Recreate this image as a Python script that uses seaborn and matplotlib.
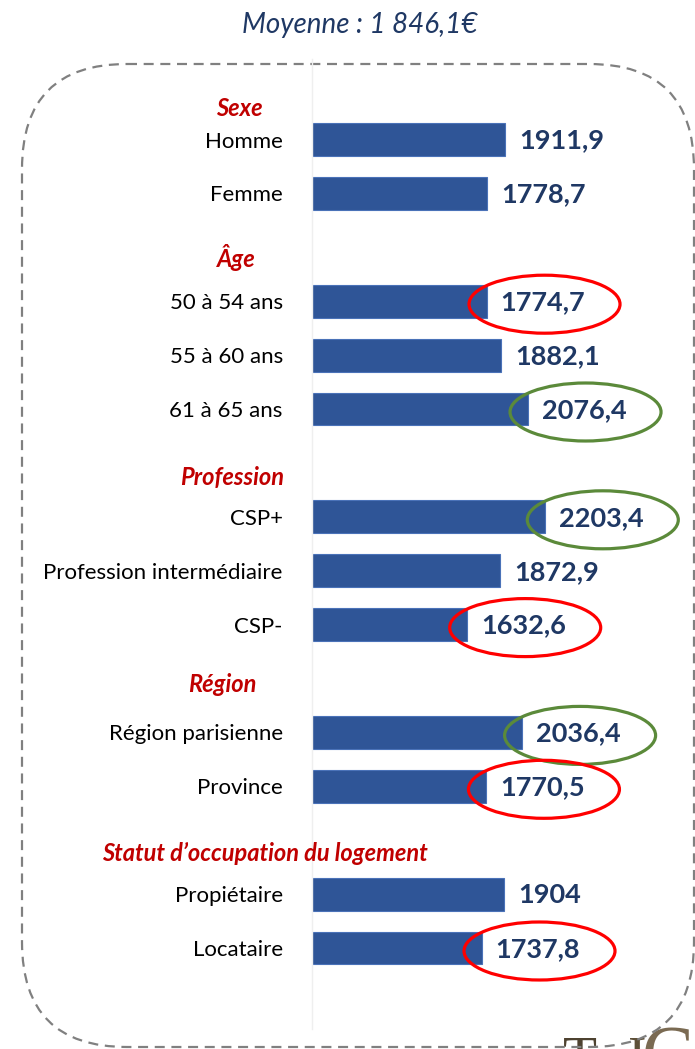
"""
Revenu moyen par profil (Moyenne : 1 846,1 EUR)
Barres horizontales groupées par rubrique, valeurs entourées.
"""

import pandas as pd
import matplotlib.pyplot as plt
import seaborn as sns
from matplotlib.patches import Ellipse, FancyBboxPatch

# ── Données ────────────────────────────────────────────────────────────────
rubriques = ["Sexe", "Âge", "Profession", "Région", "Statut d’occupation du logement"]
libelles = [
    ["Homme", "Femme"],
    ["50 à 54 ans", "55 à 60 ans", "61 à 65 ans"],
    ["CSP+", "Profession intermédiaire", "CSP-"],
    ["Région parisienne", "Province"],
    ["Propiétaire", "Locataire"],
]
valeurs = [
    [1911.9, 1778.7],
    [1774.7, 1882.1, 2076.4],
    [2203.4, 1872.9, 1632.6],
    [2036.4, 1770.5],
    [1904.0, 1737.8],
]
# entourages : "bas" = rouge, "haut" = vert
entourages = {
    "50 à 54 ans": "bas",
    "61 à 65 ans": "haut",
    "CSP+": "haut",
    "CSP-": "bas",
    "Région parisienne": "haut",
    "Province": "bas",
    "Locataire": "bas",
}
titre = "Moyenne : 1 846,1€"

# ── Style ──────────────────────────────────────────────────────────────────
W, H = 695, 1049
BAR = "#2F5597"
NAVY = "#1F3864"
RED_TXT = "#C00000"
COL_ELL = {"bas": "#FF0000", "haut": "#5B8A3A"}

sns.set_theme(style="white")
plt.rcParams["font.family"] = ["Lato", "DejaVu Sans"]

# table longue + ordre des cases (rubrique = case vide)
rows = []
order = []
for rub, labs, vals in zip(rubriques, libelles, valeurs):
    order.append(rub)
    for lab, v in zip(labs, vals):
        rows.append({"libelle": lab, "valeur": v})
        order.append(lab)
order.append("")
df = pd.DataFrame(rows)

fig = plt.figure(figsize=(W / 100, H / 100), dpi=100)

# cadre pointillé arrondi (repère en pixels)
bg = fig.add_axes([0, 0, 1, 1])
bg.set_xlim(0, W)
bg.set_ylim(H, 0)
bg.axis("off")
# fragment de logo coupé en bas à droite
bg.text(563, 1036, "T", family="Liberation Serif", fontsize=40,
        color="#4E4230", va="top", ha="left")
bg.text(628, 1036, "I", family="Liberation Serif", fontsize=40,
        color="#5E5038", va="top", ha="left")
bg.text(642, 1024, "C", family="Liberation Serif", fontsize=56,
        color="#7A6A52", va="top", ha="left")
bg.add_patch(
    FancyBboxPatch(
        (22, 64), 672, 983,
        boxstyle="round,pad=0,rounding_size=105",
        fill=False, ec="#808080", lw=1.6, ls=(0, (4.5, 3)), zorder=3,
    )
)

# ── Barres ─────────────────────────────────────────────────────────────────
ax_l, ax_r = 312, 690
slot0, step = 85.6, 53.9
y_top = slot0 - step / 2
y_bot = slot0 + step * (len(order) - 0.5)
ax = fig.add_axes([ax_l / W, 1 - y_bot / H, (ax_r - ax_l) / W, (y_bot - y_top) / H])
ax.patch.set_alpha(0)

sns.barplot(
    data=df, x="valeur", y="libelle", order=order, orient="h",
    color=BAR, saturation=1, width=0.61, errorbar=None,
    edgecolor="#4A72B8", linewidth=0.8, ax=ax,
)

x0 = 491
ppu = 0.13595  # pixels par unité
ax.set_xlim(x0, x0 + (ax_r - ax_l) / ppu)
ax.set_ylim(len(order) - 0.5, -0.5)
ax.set_xlabel("")
ax.set_ylabel("")
ax.set_xticks([])
for s in ["top", "right", "bottom"]:
    ax.spines[s].set_visible(False)
ax.spines["left"].set_color("#EFEFEF")
ax.spines["left"].set_linewidth(1)

ticklabels = ["" if (o in rubriques or o == "") else o for o in order]
ax.set_yticks(range(len(order)))
ax.set_yticklabels(ticklabels, fontsize=16, color="black")
ax.tick_params(axis="y", length=0, pad=21)

# valeurs + ellipses
du_px = 1 / ppu           # unités x par pixel
dy_px = 1 / step          # cases par pixel
for i, lab in enumerate(order):
    sel = df[df["libelle"] == lab]
    if sel.empty:
        continue
    v = sel["valeur"].iloc[0]
    txt = f"{v:.1f}".replace(".", ",")
    if txt.endswith(",0"):
        txt = txt[:-2]
    ax.annotate(txt, xy=(v, i), xytext=(14, -1), textcoords="offset pixels",
                ha="left", va="center", fontsize=19.5, fontweight="bold",
                color=NAVY)
    if lab in entourages:
        ax.add_patch(
            Ellipse((v + 58 * du_px, i + 3 * dy_px), 151 * du_px, 58 * dy_px,
                    fill=False, ec=COL_ELL[entourages[lab]], lw=2.3,
                    clip_on=False, zorder=5)
        )

# rubriques
pos_rub = [(239.5, 108), (236.5, 257), (232, 478), (222.5, 684), (265, 853)]
for rub, (px, py) in zip(rubriques, pos_rub):
    fig.text(px / W, 1 - py / H, rub, ha="center", va="center",
             fontsize=17, fontweight="bold", style="italic", color=RED_TXT)

fig.text(360 / W, 1 - 25 / H, titre, ha="center", va="center",
         fontsize=20, style="italic", color=NAVY)

fig.savefig("out.png", dpi=100)
